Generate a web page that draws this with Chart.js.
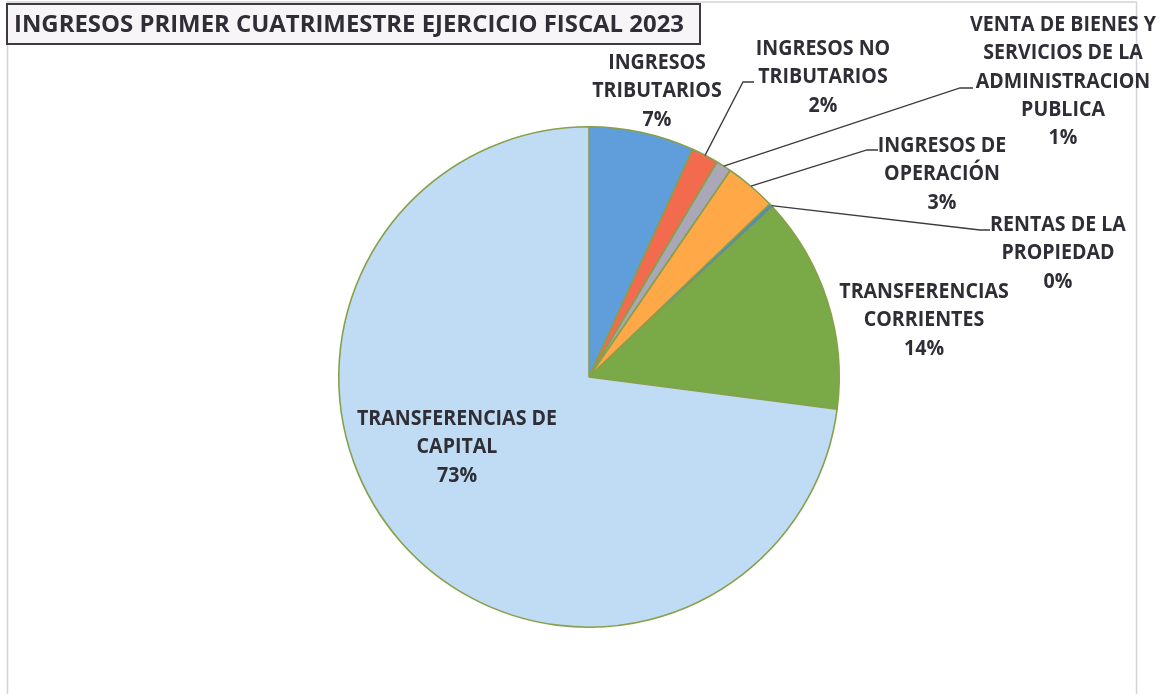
<!DOCTYPE html>
<html>
<head>
<meta charset="utf-8">
<script src="https://cdn.jsdelivr.net/npm/chart.js@4.4.1/dist/chart.umd.min.js"></script>
<style>
  html, body { margin: 0; padding: 0; background: #ffffff; }
  #wrap { width: 1163px; height: 694px; position: relative; }
  canvas { display: block; }
</style>
</head>
<body>
<div id="wrap"><canvas id="c" width="1163" height="694"></canvas></div>
<script>
// ---- Data ----
const title = "INGRESOS PRIMER CUATRIMESTRE EJERCICIO FISCAL 2023";
const categories = [
  "INGRESOS TRIBUTARIOS",
  "INGRESOS NO TRIBUTARIOS",
  "VENTA DE BIENES Y SERVICIOS DE LA ADMINISTRACION PUBLICA",
  "INGRESOS DE OPERACIÓN",
  "RENTAS DE LA PROPIEDAD",
  "TRANSFERENCIAS CORRIENTES",
  "TRANSFERENCIAS DE CAPITAL"
];
const labelLines = [
  ["INGRESOS", "TRIBUTARIOS"],
  ["INGRESOS NO", "TRIBUTARIOS"],
  ["VENTA DE BIENES Y", "SERVICIOS DE LA", "ADMINISTRACION", "PUBLICA"],
  ["INGRESOS DE", "OPERACIÓN"],
  ["RENTAS DE LA", "PROPIEDAD"],
  ["TRANSFERENCIAS", "CORRIENTES"],
  ["TRANSFERENCIAS DE", "CAPITAL"]
];
const shares = [6.8, 1.75, 1.0, 3.3, 0.3, 13.9, 72.95];

// ---- Styles / layout ----
const colors = ["#5f9ddb", "#f26b4f", "#aaa8b8", "#ffa847", "#4f8fb0", "#7aaa48", "#c0dcf4"];
const labelLayout = [
  { cx: 657, y0: 63, leader: null },
  { cx: 823, y0: 49, leader: [[743, 82], [754, 82]] },
  { cx: 1063, y0: 25, leader: [[960, 88], [973, 88]] },
  { cx: 942, y0: 146, leader: [[867, 150], [878, 150]] },
  { cx: 1058, y0: 225, leader: [[980, 230], [990, 230]] },
  { cx: 924, y0: 292, leader: null },
  { cx: 457, y0: 419, leader: null }
];
const LINE_H = 28.2;
const TITLE_FONT = "bold 23px 'Open Sans', sans-serif";
const LABEL_FONT = "bold 22px 'Open Sans', sans-serif";
const TEXT_COLOR = "#2f2e36";

const total = shares.reduce((a, b) => a + b, 0);

const decorPlugin = {
  id: 'decor',
  beforeDraw(chart) {
    const ctx = chart.ctx;
    ctx.save();
    ctx.fillStyle = '#ffffff';
    ctx.fillRect(0, 0, chart.width, chart.height);
    ctx.strokeStyle = '#d4d4d8';
    ctx.lineWidth = 1.5;
    ctx.strokeRect(7.5, 2, 1129, 700);
    ctx.restore();
  },
  afterDraw(chart) {
    const ctx = chart.ctx;
    ctx.save();
    // Title box
    ctx.font = TITLE_FONT;
    const tsx = 670 / ctx.measureText(title).width;
    ctx.fillStyle = '#f7f5f7';
    ctx.fillRect(7, 4, 693, 40);
    ctx.strokeStyle = '#3c3c40';
    ctx.lineWidth = 2;
    ctx.strokeRect(7, 4, 693, 40);
    ctx.fillStyle = TEXT_COLOR;
    ctx.textBaseline = 'middle';
    ctx.textAlign = 'left';
    ctx.save();
    ctx.translate(14, 25);
    ctx.scale(tsx, 1);
    ctx.fillText(title, 0, 0);
    ctx.restore();

    // Labels and leaders
    ctx.font = LABEL_FONT;
    const lsx = 200 / ctx.measureText("TRANSFERENCIAS DE").width;
    const meta = chart.getDatasetMeta(0);
    meta.data.forEach((arc, i) => {
      const L = labelLayout[i];
      if (L.leader) {
        const mid = (arc.startAngle + arc.endAngle) / 2;
        const r = arc.outerRadius;
        const px = arc.x + Math.cos(mid) * r;
        const py = arc.y + Math.sin(mid) * r;
        ctx.strokeStyle = '#3a3a3e';
        ctx.lineWidth = 1.3;
        ctx.beginPath();
        ctx.moveTo(px, py);
        ctx.lineTo(L.leader[0][0], L.leader[0][1]);
        ctx.lineTo(L.leader[1][0], L.leader[1][1]);
        ctx.stroke();
      }
      const pct = Math.round(shares[i] / total * 100) + '%';
      const lines = labelLines[i].concat([pct]);
      ctx.fillStyle = TEXT_COLOR;
      ctx.textAlign = 'center';
      ctx.textBaseline = 'middle';
      lines.forEach((t, k) => {
        ctx.save();
        ctx.translate(L.cx, L.y0 + k * LINE_H);
        ctx.scale(lsx, 1);
        ctx.fillText(t, 0, 0);
        ctx.restore();
      });
    });
    ctx.restore();
  }
};

new Chart(document.getElementById('c'), {
  type: 'pie',
  data: {
    labels: categories,
    datasets: [{
      data: shares,
      backgroundColor: colors,
      borderColor: '#87a04a',
      borderWidth: 1.6
    }]
  },
  options: {
    responsive: false,
    animation: false,
    layout: { padding: { left: 338, right: 323, top: 125, bottom: 65 } },
    plugins: {
      legend: { display: false },
      tooltip: { enabled: false },
      title: { display: false }
    }
  },
  plugins: [decorPlugin]
});
</script>
</body>
</html>
